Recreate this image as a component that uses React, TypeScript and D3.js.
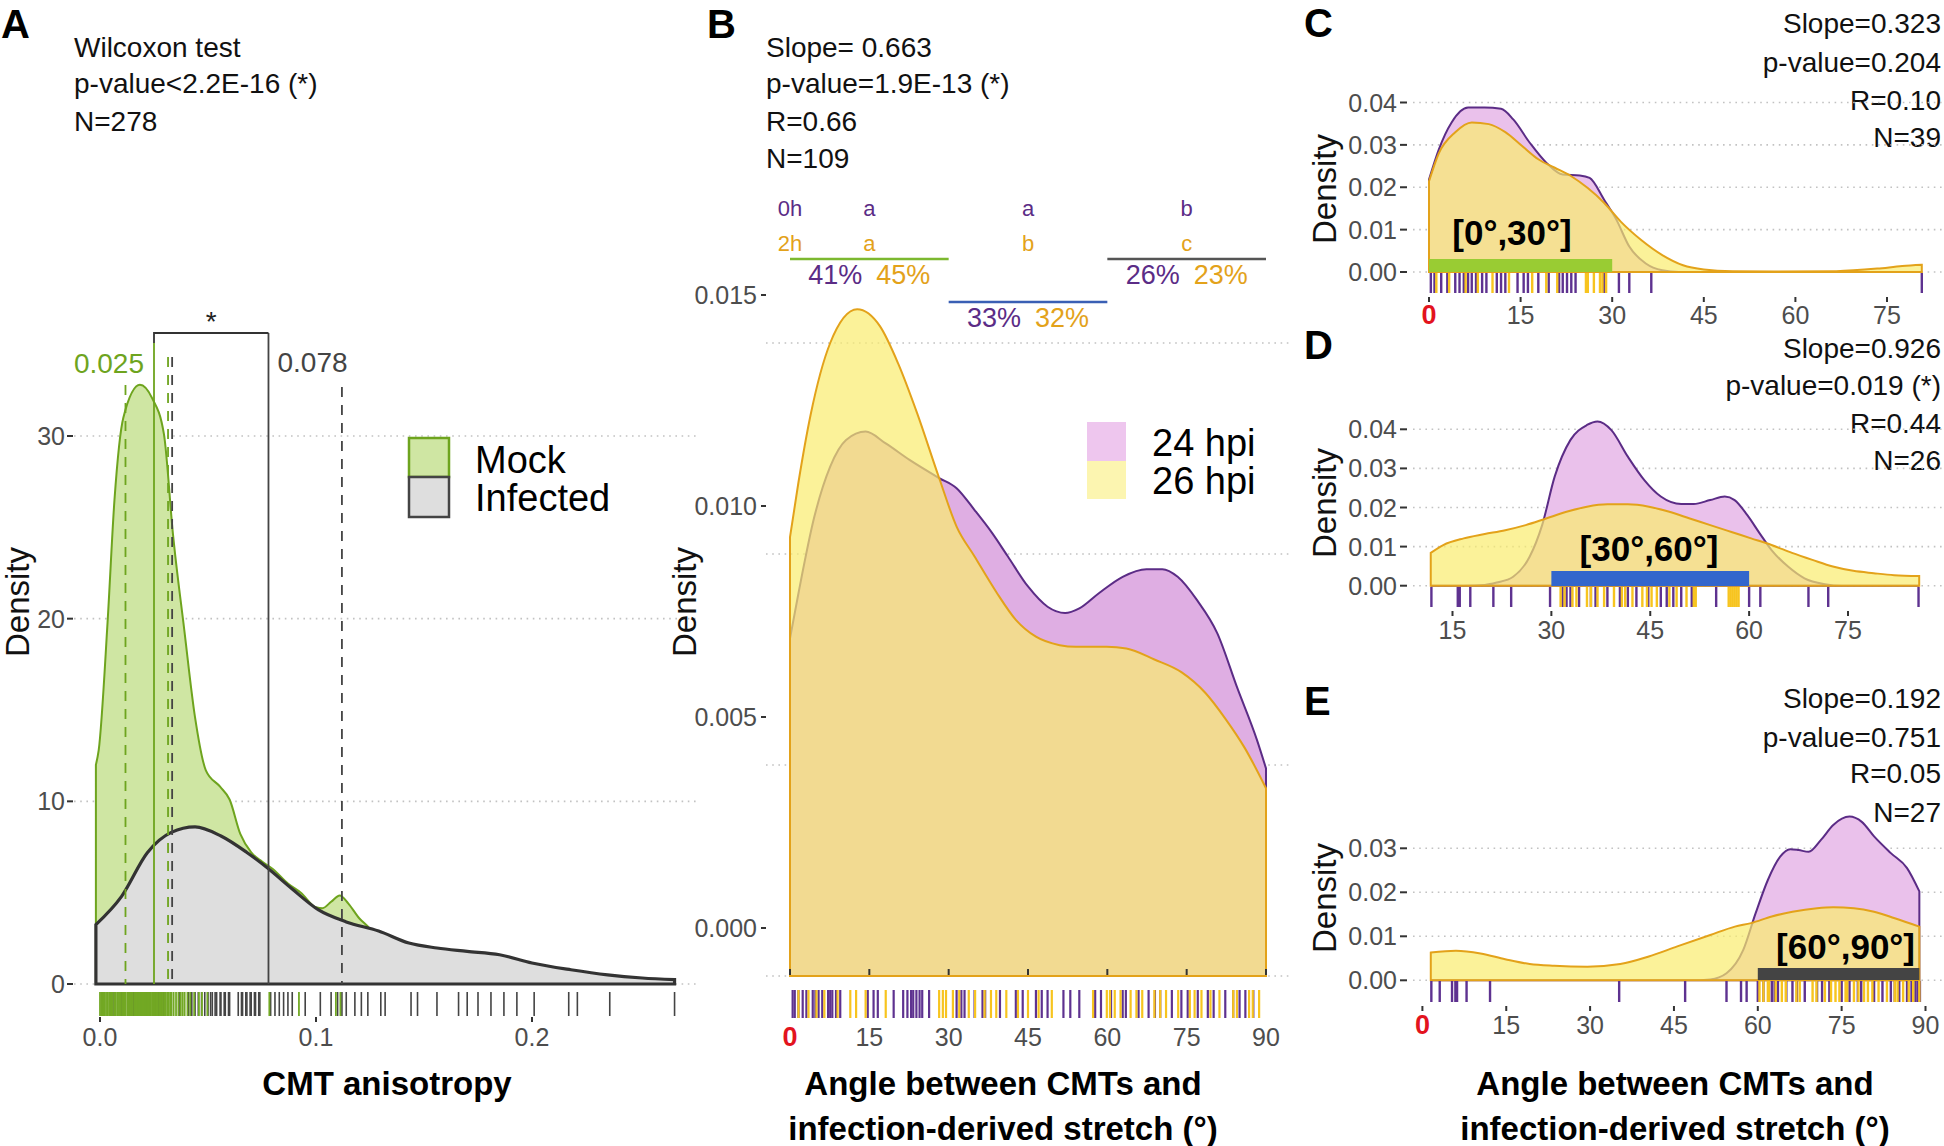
import React from "react";
import * as d3 from "d3";

type Pt = [number, number];

const FONT = "'Liberation Sans', Arial, Helvetica, sans-serif";
const TICK_GRAY = "#4d4d4d";
const GRID = "#c2c2c2";
const PURPLE = "#5b2c86";
const ORANGE = "#e3a21a";
const RUG_PURPLE = "#5e3290";
const RUG_YELLOW = "#f7c41f";
const RED0 = "#e3131e";
const YELLOW_FILL = "rgb(250,236,110)";

// ---------------- Panel A data ----------------
const aStats = ["Wilcoxon test", "p-value<2.2E-16 (*)", "N=278"];
const aYTicks = [0, 10, 20, 30];
const aXTicks = [0, 0.1, 0.2];
const aXTickLabels = ["0.0", "0.1", "0.2"];
const aLegend = ["Mock", "Infected"];
const mockDensity: Pt[] = [
  [-0.0019, 12.0], [-0.0006, 12.8], [0.0035, 19.8], [0.0067, 26.5], [0.0108, 31.0],
  [0.0185, 32.8], [0.024, 32.1], [0.0296, 30.1], [0.0338, 24.6], [0.039, 19.4], [0.044, 14.6],
  [0.049, 11.7], [0.0556, 10.8], [0.06, 10.1], [0.065, 8.2], [0.07, 7.2], [0.075, 6.7],
  [0.08, 6.3], [0.087, 5.5], [0.093, 5.0], [0.1, 4.2], [0.103, 4.15], [0.107, 4.5],
  [0.111, 4.85], [0.115, 4.4], [0.12, 3.6], [0.124, 3.15], [0.135, 1.6], [0.15, 0.6],
  [0.17, 0.2], [0.2, 0.05],
];
const infectedDensity: Pt[] = [
  [-0.0019, 3.25], [0.01, 4.8], [0.022, 7.2], [0.033, 8.3], [0.044, 8.6], [0.056, 8.1],
  [0.068, 7.2], [0.077, 6.4], [0.089, 5.2], [0.101, 4.07], [0.114, 3.4], [0.129, 2.9],
  [0.143, 2.24], [0.156, 1.97], [0.17, 1.79], [0.185, 1.6], [0.2, 1.15], [0.218, 0.78],
  [0.235, 0.5], [0.251, 0.33], [0.266, 0.24],
];
const mockRug = [
  0.0, 0.0006, 0.0012, 0.0017, 0.0021, 0.0028, 0.0035, 0.0042, 0.0047, 0.0053, 0.0058, 0.0066,
  0.0071, 0.0079, 0.0083, 0.0088, 0.0093, 0.0097, 0.0104, 0.0109, 0.0113, 0.0118, 0.0126,
  0.0133, 0.0137, 0.0141, 0.0146, 0.0152, 0.0159, 0.0163, 0.0167, 0.0172, 0.0178, 0.0182,
  0.0186, 0.0193, 0.0197, 0.0201, 0.0206, 0.0212, 0.0215, 0.0219, 0.0224, 0.0228, 0.0232,
  0.0236, 0.0242, 0.0247, 0.0251, 0.0255, 0.0259, 0.0263, 0.0268, 0.0274, 0.0279, 0.0283,
  0.0287, 0.0291, 0.0297, 0.0304, 0.0311, 0.0318, 0.0325, 0.0331, 0.0341, 0.0352, 0.0363,
  0.0374, 0.0383, 0.0392, 0.0405, 0.0418, 0.0436, 0.0458, 0.0472, 0.0497, 0.0784, 0.0921,
  0.1092, 0.1113,
];
const infectedRug = [
  0.006, 0.0098, 0.013, 0.0155, 0.018, 0.0225, 0.027, 0.0295, 0.033, 0.037, 0.041, 0.0425,
  0.044, 0.0455, 0.047, 0.0485, 0.05, 0.0512, 0.052, 0.0533, 0.054, 0.0556, 0.056, 0.0575,
  0.058, 0.0595, 0.06, 0.064, 0.0655, 0.066, 0.0675, 0.068, 0.0695, 0.07, 0.0715, 0.072,
  0.0735, 0.074, 0.079, 0.081, 0.083, 0.085, 0.087, 0.089, 0.095, 0.102, 0.107, 0.11, 0.112,
  0.114, 0.118, 0.121, 0.124, 0.13, 0.132, 0.144, 0.147, 0.156, 0.166, 0.17, 0.175, 0.181,
  0.187, 0.193, 0.201, 0.217, 0.221, 0.236, 0.266,
];
const mockMedian = 0.025;
const infectedMedian = 0.078;
const mockQuartiles = [0.0118, 0.0315];
const infectedQuartiles = [0.0334, 0.112];

// ---------------- Panel B data ----------------
const bStats = ["Slope= 0.663", "p-value=1.9E-13 (*)", "R=0.66", "N=109"];
const bYTicks = [0, 0.005, 0.01, 0.015];
const angleTicks = [0, 15, 30, 45, 60, 75, 90];
const bRanges: Pt[] = [[0, 30], [30, 60], [60, 90]];
const bLetters0h = ["a", "a", "b"];
const bLetters2h = ["a", "b", "c"];
const bPct24 = ["41%", "33%", "26%"];
const bPct26 = ["45%", "32%", "23%"];
const bRangeColors = ["#7cb82f", "#3a5fb4", "#555555"];
const bLegend = ["24 hpi", "26 hpi"];
const b24Density: Pt[] = [
  [0, 0.008], [1.6, 0.00907], [4.6, 0.01088], [7.6, 0.01207], [10.6, 0.0127], [14.3, 0.0129],
  [18.1, 0.01262], [22.6, 0.01223], [28.2, 0.0118], [31.5, 0.01156], [34.9, 0.01104],
  [38.2, 0.0105], [41.2, 0.00994], [45, 0.00923], [48.7, 0.00875], [52, 0.0086],
  [54.7, 0.00871], [58.4, 0.00907], [62.9, 0.00946], [67.4, 0.00964], [70.4, 0.00964],
  [73.3, 0.00946], [77, 0.0089], [80.8, 0.00812], [84.5, 0.00685], [88.3, 0.00559], [90, 0.00492],
];
const b26Density: Pt[] = [
  [0, 0.0104], [1.6, 0.0117], [3.9, 0.0133], [7.6, 0.015], [12.7, 0.0158], [17, 0.0154],
  [20.5, 0.0145], [24, 0.01335], [28.2, 0.0118], [31.5, 0.01065], [34.9, 0.00994], [39, 0.0091],
  [42.7, 0.00844], [46.5, 0.00804], [51, 0.00784], [54, 0.0078], [59.9, 0.0078], [63.6, 0.00776],
  [68.9, 0.0075], [74, 0.0072], [78.6, 0.0067], [82.3, 0.0061], [86, 0.0054], [90, 0.00445],
];
const b24Rug = [
  0.5, 0.9, 1.6, 2.4, 3.1, 4.3, 4.8, 5.4, 6.1, 7.2, 7.6, 8.0, 8.7, 9.5, 14.7, 15.8, 16.6, 19.6,
  21.4, 22.2, 22.9, 23.3, 23.9, 24.5, 25.0, 26.3, 31.5, 32.4, 33.0, 34.9, 36.4, 36.9, 39.7,
  42.7, 44.0, 46.5, 47.6, 48.7, 51.7, 53.0, 54.7, 57.7, 58.8, 60.7, 62.9, 63.5, 65.9, 67.8,
  69.0, 70.0, 72.2, 74.0, 75.2, 77.1, 79.0, 80.1, 82.3, 83.8, 85.0, 86.1, 87.6,
];
const b26Rug = [
  1.6, 3.5, 5.0, 6.5, 9.0, 11.4, 12.5, 14.3, 18.1, 28.2, 28.9, 29.5, 30.8, 32.0, 33.8, 35.0,
  36.8, 38.0, 39.0, 40.9, 43.1, 45.0, 47.0, 49.5, 57.3, 59.9, 60.5, 61.4, 62.5, 64.4, 65.5,
  66.6, 68.9, 70.0, 71.1, 73.4, 75.6, 76.5, 77.8, 79.5, 81.2, 83.8, 84.5, 86.8, 87.5, 88.7,
];

// ---------------- Panel C data ----------------
const cStats = ["Slope=0.323", "p-value=0.204", "R=0.10", "N=39"];
const cYTicks = [0, 0.01, 0.02, 0.03, 0.04];
const cXTicks = [0, 15, 30, 45, 60, 75];
const cPurple: Pt[] = [
  [0, 0.0218], [1.6, 0.0289], [3.7, 0.0353], [6.4, 0.0388], [9.1, 0.0388], [11.8, 0.0385],
  [13.8, 0.036], [16.5, 0.0305], [19.2, 0.0258], [21.9, 0.023], [24.7, 0.0228], [26.3, 0.0222],
  [28.7, 0.017], [30.7, 0.0123], [32.8, 0.006], [35.5, 0.002], [38.2, 0.0004], [40.9, 0],
  [50, 0], [80.7, 0],
];
const cYellow: Pt[] = [
  [0, 0.0214], [1.6, 0.028], [4.3, 0.033], [7, 0.0353], [9.8, 0.0349], [12.5, 0.033],
  [15.2, 0.0298], [17.9, 0.0266], [20.6, 0.0246], [23.3, 0.0226], [26, 0.0198], [28.7, 0.0163],
  [31.4, 0.0119], [34.8, 0.0075], [38.2, 0.004], [41.6, 0.0016], [45, 0.0006], [49.7, 0.00016],
  [56.5, 0.0001], [66.7, 0.0002], [73.4, 0.0008], [77.5, 0.0014], [80.7, 0.0017],
];
const cPurpleRug = [
  0.3, 0.9, 2.0, 3.0, 4.3, 5.0, 5.7, 6.4, 7.0, 7.7, 8.7, 9.4, 11.1, 11.8, 12.5, 14.5, 15.5,
  16.2, 17.9, 19.6, 21.3, 21.9, 22.6, 23.3, 24.0, 28.7, 31.1, 32.8, 36.4, 80.7,
];
const cYellowRug = [1.2, 3.3, 6.0, 8.0, 10.4, 13.1, 16.9, 19.2, 21.0, 25.7, 26.0, 27.0, 28.0, 28.4, 29.0];

// ---------------- Panel D data ----------------
const dStats = ["Slope=0.926", "p-value=0.019 (*)", "R=0.44", "N=26"];
const dYTicks = [0, 0.01, 0.02, 0.03, 0.04];
const dXTicks = [15, 30, 45, 60, 75];
const dPurple: Pt[] = [
  [11.7, 0], [16.7, 0], [19.9, 0.0002], [21.7, 0.0008], [24.2, 0.0023], [26.7, 0.0074],
  [28.6, 0.0155], [30.5, 0.0279], [32.9, 0.0373], [35.4, 0.0411], [37, 0.042], [39.1, 0.0398],
  [41.6, 0.033], [44.1, 0.027], [46.6, 0.0228], [49.7, 0.0209], [51.6, 0.0209], [54.1, 0.0219],
  [56.3, 0.0228], [57.8, 0.0219], [59.7, 0.0181], [61.6, 0.0134], [63.4, 0.0091], [65.9, 0.0049],
  [68.4, 0.0019], [71.5, 0.0004], [74, 0], [85.8, 0],
];
const dYellow: Pt[] = [
  [11.7, 0.0084], [13.6, 0.0104], [16.7, 0.0121], [19.9, 0.0132], [23, 0.0142], [26.1, 0.0155],
  [29.2, 0.0172], [32.3, 0.0189], [35.4, 0.0202], [38.5, 0.0208], [41.6, 0.0208], [44.8, 0.0202],
  [47.9, 0.0189], [51, 0.0172], [54.1, 0.0155], [57.2, 0.0138], [60.3, 0.0121], [63.4, 0.0104],
  [66.5, 0.0084], [69.6, 0.0066], [72.7, 0.0049], [75.8, 0.0038], [78.9, 0.0032], [82, 0.0027],
  [85.8, 0.0025],
];
const dPurpleRug = [
  11.8, 15.8, 16.1, 17.7, 21.2, 23.9, 29.8, 31.7, 32.3, 32.9, 34.2, 36.0, 36.7, 38.5, 40.4,
  41.6, 42.9, 44.7, 46.6, 47.5, 48.5, 49.7, 51.3, 55.0, 60.0, 61.7, 69.0, 72.0, 85.7,
];
const dYellowRug = [
  31.4, 32.0, 33.2, 33.8, 35.4, 36.0, 37.0, 38.0, 39.5, 40.7, 41.2, 42.3, 43.8, 44.5, 45.2,
  46.0, 47.9, 49.0, 50.5, 51.6, 51.9, 56.9, 57.2, 57.5, 57.8, 58.1, 58.4,
];

// ---------------- Panel E data ----------------
const eStats = ["Slope=0.192", "p-value=0.751", "R=0.05", "N=27"];
const eYTicks = [0, 0.01, 0.02, 0.03];
const eXTicks = [0, 15, 30, 45, 60, 75, 90];
const ePurple: Pt[] = [
  [1.5, 0], [48, 0], [51.5, 0.0002], [54.4, 0.0016], [57.4, 0.0069], [59.6, 0.0152],
  [61.8, 0.0228], [64, 0.0281], [65.8, 0.0298], [67.3, 0.0296], [69.1, 0.0292], [71.3, 0.0319],
  [73.5, 0.0353], [76.4, 0.0372], [78.6, 0.036], [80.8, 0.0327], [83.8, 0.0289], [86.7, 0.0255],
  [88.9, 0.0202],
];
const eYellow: Pt[] = [
  [1.5, 0.0063], [6, 0.0067], [10.4, 0.0061], [14.8, 0.0048], [19.2, 0.0037], [23.6, 0.0033],
  [29.5, 0.0031], [35.4, 0.0037], [40.5, 0.0054], [45.6, 0.0077], [51.5, 0.0103], [55.9, 0.0122],
  [58.8, 0.013], [62.5, 0.0145], [66.2, 0.0156], [70.6, 0.0164], [73.5, 0.0166], [77.2, 0.0164],
  [80.8, 0.0156], [84.5, 0.0141], [88.9, 0.0122],
];
const ePurpleRug = [
  1.6, 3.1, 5.3, 5.9, 6.2, 7.9, 12.1, 35.2, 47.0, 54.4, 57.0, 58.0, 60.0, 61.0, 62.5, 63.0,
  63.6, 65.1, 66.2, 67.0, 68.4, 70.6, 71.5, 72.8, 75.0, 76.4, 77.9, 78.5, 80.8, 82.3, 83.8,
  84.5, 85.3, 86.7, 87.5, 88.2, 88.6, 89.0,
];
const eYellowRug = [
  60.3, 61.0, 61.8, 62.0, 63.2, 64.3, 65.0, 66.9, 67.5, 69.8, 70.5, 72.0, 73.1, 73.9, 74.6,
  75.7, 76.0, 77.2, 78.0, 79.0, 79.7, 80.5, 81.6, 83.1, 84.5, 85.0, 86.0, 87.0, 87.8, 88.9,
];

const xTitle = ["Angle between CMTs and", "infection-derived stretch (°)"];

// ---------------- helpers ----------------
type Scale = d3.ScaleLinear<number, number>;

function areaPath(data: Pt[], x: Scale, y: Scale): string {
  return (
    d3
      .area<Pt>()
      .x((d) => x(d[0]))
      .y0(y(0))
      .y1((d) => y(d[1]))
      .curve(d3.curveMonotoneX)(data) || ""
  );
}

function GridLine({ x1, x2, y }: { x1: number; x2: number; y: number }) {
  return (
    <line x1={x1} x2={x2} y1={y} y2={y} stroke={GRID} strokeWidth={1.6} strokeDasharray="1.6 4.6" />
  );
}

function Rug({ vals, x, y1, y2, color, w }: { vals: number[]; x: Scale; y1: number; y2: number; color: string; w: number }) {
  return (
    <g>
      {vals.map((v, i) => (
        <line key={i} x1={x(v)} x2={x(v)} y1={y1} y2={y2} stroke={color} strokeWidth={w} />
      ))}
    </g>
  );
}

function DensityLabel({ x, y }: { x: number; y: number }) {
  return (
    <text
      transform={`translate(${x},${y}) rotate(-90)`}
      textAnchor="middle"
      dominantBaseline="central"
      fontSize={33}
      fill="#111"
    >
      Density
    </text>
  );
}

// ---------------- Panel A ----------------
function PanelA() {
  const x = d3.scaleLinear().domain([0, 0.2]).range([100, 532]);
  const y = d3.scaleLinear().domain([0, 30]).range([984, 436]);
  const statY = [47, 83, 121];
  const green = "#6ea41e";
  return (
    <g>
      <text x={1} y={38} fontSize={40} fontWeight="bold">A</text>
      {aStats.map((s, i) => (
        <text key={i} x={74} y={statY[i] + 10} fontSize={28} fill="#111">{s}</text>
      ))}
      {aYTicks.map((t) => (
        <g key={t}>
          <GridLine x1={74} x2={700} y={y(t)} />
          <line x1={67} x2={73} y1={y(t)} y2={y(t)} stroke="#333" strokeWidth={2} />
          <text x={65} y={y(t) + 9} textAnchor="end" fontSize={25} fill={TICK_GRAY}>{t}</text>
        </g>
      ))}
      <path d={areaPath(mockDensity, x, y)} fill="#cfe6a3" stroke={green} strokeWidth={2} />
      <path d={areaPath(infectedDensity, x, y)} fill="#dedede" stroke="#333" strokeWidth={3.2} />
      {/* quartile dashed lines */}
      <line x1={x(mockQuartiles[0])} x2={x(mockQuartiles[0])} y1={385} y2={y(0)} stroke={green} strokeWidth={1.8} strokeDasharray="10 8" />
      <line x1={x(mockQuartiles[1])} x2={x(mockQuartiles[1])} y1={357} y2={y(0)} stroke={green} strokeWidth={1.8} strokeDasharray="10 8" />
      <line x1={x(infectedQuartiles[0])} x2={x(infectedQuartiles[0])} y1={357} y2={y(0)} stroke="#444" strokeWidth={1.8} strokeDasharray="10 8" />
      <line x1={x(infectedQuartiles[1])} x2={x(infectedQuartiles[1])} y1={387} y2={y(0)} stroke="#444" strokeWidth={1.8} strokeDasharray="10 8" />
      {/* medians */}
      <line x1={x(mockMedian)} x2={x(mockMedian)} y1={343} y2={y(0)} stroke={green} strokeWidth={1.8} />
      <line x1={x(infectedMedian)} x2={x(infectedMedian)} y1={333} y2={y(0)} stroke="#444" strokeWidth={1.8} />
      <path
        d={`M${x(mockMedian)},343 V333 H${x(infectedMedian)}`}
        fill="none"
        stroke="#333"
        strokeWidth={1.8}
      />
      <text x={(x(mockMedian) + x(infectedMedian)) / 2} y={331} textAnchor="middle" fontSize={28} fill="#222">*</text>
      <text x={x(mockMedian) - 10} y={363 + 10} textAnchor="end" fontSize={28} fill={green}>
        {mockMedian.toFixed(3)}
      </text>
      <text x={x(infectedMedian) + 9} y={362 + 10} fontSize={28} fill="#444">
        {infectedMedian.toFixed(3)}
      </text>
      {/* legend */}
      <rect x={409} y={438} width={40} height={39} fill="#cfe6a3" stroke={green} strokeWidth={2.5} />
      <rect x={409} y={477} width={40} height={40} fill="#dedede" stroke="#444" strokeWidth={2.5} />
      <text x={475} y={459 + 13.5} fontSize={38} fill="#000">{aLegend[0]}</text>
      <text x={475} y={497 + 13.5} fontSize={38} fill="#000">{aLegend[1]}</text>
      {/* rug */}
      <Rug vals={infectedRug} x={x} y1={992} y2={1016} color="#444" w={1.6} />
      <Rug vals={mockRug} x={x} y1={992} y2={1016} color="#72a824" w={1.8} />
      {aXTicks.map((t, i) => (
        <g key={t}>
          <line x1={x(t)} x2={x(t)} y1={1017} y2={1022} stroke="#333" strokeWidth={2} />
          <text x={x(t)} y={1037 + 9} textAnchor="middle" fontSize={25} fill={TICK_GRAY}>{aXTickLabels[i]}</text>
        </g>
      ))}
      <DensityLabel x={17} y={602} />
      <text x={387} y={1095} textAnchor="middle" fontSize={33} fontWeight="bold">CMT anisotropy</text>
    </g>
  );
}

// ---------------- Panel B ----------------
function PanelB() {
  const x = d3.scaleLinear().domain([0, 90]).range([790, 1266]);
  const y = d3.scaleLinear().domain([0, 0.015]).range([976, 343]);
  const labelShift = -48;
  const statY = [47, 83, 121, 158];
  const lineY = [259, 302, 259];
  return (
    <g>
      <text x={707} y={38} fontSize={40} fontWeight="bold">B</text>
      {bStats.map((s, i) => (
        <text key={i} x={766} y={statY[i] + 10} fontSize={28} fill="#111">{s}</text>
      ))}
      {bYTicks.map((t) => (
        <g key={t}>
          <GridLine x1={766} x2={1290} y={y(t)} />
          <line x1={761} x2={766} y1={y(t) + labelShift} y2={y(t) + labelShift} stroke="#333" strokeWidth={2} />
          <text x={757} y={y(t) + labelShift + 9} textAnchor="end" fontSize={25} fill={TICK_GRAY}>
            {d3.format(".3f")(t)}
          </text>
        </g>
      ))}
      <text x={x(0)} y={208 + 8} textAnchor="middle" fontSize={22} fill={PURPLE}>0h</text>
      <text x={x(0)} y={243 + 8} textAnchor="middle" fontSize={22} fill={ORANGE}>2h</text>
      {bRanges.map((r, i) => {
        const cx = x((r[0] + r[1]) / 2);
        const py = lineY[i] + 16 + 9;
        return (
          <g key={i}>
            <text x={cx} y={208 + 8} textAnchor="middle" fontSize={22} fill={PURPLE}>{bLetters0h[i]}</text>
            <text x={cx} y={243 + 8} textAnchor="middle" fontSize={22} fill={ORANGE}>{bLetters2h[i]}</text>
            <line x1={x(r[0])} x2={x(r[1])} y1={lineY[i]} y2={lineY[i]} stroke={bRangeColors[i]} strokeWidth={2.5} />
            <text x={cx - 34} y={py} textAnchor="middle" fontSize={27} fill={PURPLE}>{bPct24[i]}</text>
            <text x={cx + 34} y={py} textAnchor="middle" fontSize={27} fill={ORANGE}>{bPct26[i]}</text>
          </g>
        );
      })}
      <path d={areaPath(b24Density, x, y)} fill="#dfaee3" stroke={PURPLE} strokeWidth={2} />
      <path d={areaPath(b26Density, x, y)} fill={YELLOW_FILL} fillOpacity={0.7} stroke={ORANGE} strokeWidth={2} />
      {angleTicks.map((t) => (
        <line key={t} x1={x(t)} x2={x(t)} y1={969} y2={975} stroke="#333" strokeWidth={2} />
      ))}
      {/* legend */}
      <rect x={1087} y={422} width={39} height={39} fill="#eec6ee" />
      <rect x={1087} y={461} width={39} height={38} fill="#fcf5b0" />
      <text x={1152} y={442 + 13.5} fontSize={38} fill="#000">{bLegend[0]}</text>
      <text x={1152} y={480 + 13.5} fontSize={38} fill="#000">{bLegend[1]}</text>
      <Rug vals={b24Rug} x={x} y1={990} y2={1018} color={RUG_PURPLE} w={2.2} />
      <Rug vals={b26Rug} x={x} y1={990} y2={1018} color={RUG_YELLOW} w={2.2} />
      {angleTicks.map((t) => (
        <text
          key={t}
          x={x(t)}
          y={1037 + 9}
          textAnchor="middle"
          fontSize={t === 0 ? 27 : 25}
          fontWeight={t === 0 ? "bold" : "normal"}
          fill={t === 0 ? RED0 : TICK_GRAY}
        >
          {t}
        </text>
      ))}
      <DensityLabel x={684} y={602} />
      <text x={1003} y={1095} textAnchor="middle" fontSize={33} fontWeight="bold">{xTitle[0]}</text>
      <text x={1003} y={1140} textAnchor="middle" fontSize={33} fontWeight="bold">{xTitle[1]}</text>
    </g>
  );
}

// ---------------- Small panels C, D, E ----------------
type SmallProps = {
  letter: string;
  letterY: number;
  stats: string[];
  statYs: number[];
  x: Scale;
  y: Scale;
  yTicks: number[];
  xTicks: number[];
  purple: Pt[];
  yellow: Pt[];
  purpleRug: number[];
  yellowRug: number[];
  rugY: [number, number];
  tickY: number;
  xLabelY: number;
  bar: { from: number; to: number; color: string; y1: number; y2: number };
  barLabel: { text: string; x: number; y: number; anchor: "middle" | "end" };
  densityY: number;
};

function SmallPanel(p: SmallProps) {
  const fmt = d3.format(".2f");
  return (
    <g>
      <text x={1304} y={p.letterY} fontSize={40} fontWeight="bold">{p.letter}</text>
      {p.stats.map((s, i) => (
        <text key={i} x={1941} y={p.statYs[i] + 10} textAnchor="end" fontSize={28} fill="#111">{s}</text>
      ))}
      {p.yTicks.map((t) => (
        <g key={t}>
          <GridLine x1={1413} x2={1944} y={p.y(t)} />
          <line x1={1400} x2={1407} y1={p.y(t)} y2={p.y(t)} stroke="#333" strokeWidth={2} />
          <text x={1397} y={p.y(t) + 9} textAnchor="end" fontSize={25} fill={TICK_GRAY}>{fmt(t)}</text>
        </g>
      ))}
      <path d={areaPath(p.purple, p.x, p.y)} fill="#eac1eb" stroke={PURPLE} strokeWidth={2} />
      <path d={areaPath(p.yellow, p.x, p.y)} fill={YELLOW_FILL} fillOpacity={0.7} stroke={ORANGE} strokeWidth={2} />
      <rect
        x={p.x(p.bar.from)}
        y={p.bar.y1}
        width={p.x(p.bar.to) - p.x(p.bar.from)}
        height={p.bar.y2 - p.bar.y1}
        fill={p.bar.color}
      />
      <text
        x={p.barLabel.x}
        y={p.barLabel.y + 12}
        textAnchor={p.barLabel.anchor}
        fontSize={35}
        fontWeight="bold"
        fill="#000"
      >
        {p.barLabel.text}
      </text>
      <Rug vals={p.purpleRug} x={p.x} y1={p.rugY[0]} y2={p.rugY[1]} color={RUG_PURPLE} w={2.4} />
      <Rug vals={p.yellowRug} x={p.x} y1={p.rugY[0]} y2={p.rugY[1]} color={RUG_YELLOW} w={2.4} />
      {p.xTicks.map((t) => (
        <g key={t}>
          <line x1={p.x(t)} x2={p.x(t)} y1={p.tickY} y2={p.tickY + 5} stroke="#333" strokeWidth={2} />
          <text
            x={p.x(t)}
            y={p.xLabelY + 9}
            textAnchor="middle"
            fontSize={t === 0 ? 27 : 25}
            fontWeight={t === 0 ? "bold" : "normal"}
            fill={t === 0 ? RED0 : TICK_GRAY}
          >
            {t}
          </text>
        </g>
      ))}
      <DensityLabel x={1324} y={p.densityY} />
    </g>
  );
}

export default function App() {
  const xC = d3.scaleLinear().domain([0, 75]).range([1429, 1887]);
  const yC = d3.scaleLinear().domain([0, 0.04]).range([272, 102.5]);
  const xD = d3.scaleLinear().domain([15, 75]).range([1452.5, 1848]);
  const yD = d3.scaleLinear().domain([0, 0.04]).range([585.7, 429.3]);
  const xE = d3.scaleLinear().domain([0, 90]).range([1422.4, 1925.5]);
  const yE = d3.scaleLinear().domain([0, 0.03]).range([980.3, 848.3]);
  return (
    <svg
      width={1944}
      height={1146}
      viewBox="0 0 1944 1146"
      style={{ position: "absolute", left: 0, top: 0, display: "block" }}
      fontFamily={FONT}
    >
      <rect x={0} y={0} width={1944} height={1146} fill="#ffffff" />
      <PanelA />
      <PanelB />
      <SmallPanel
        letter="C"
        letterY={37}
        stats={cStats}
        statYs={[23, 62, 100, 137]}
        x={xC}
        y={yC}
        yTicks={cYTicks}
        xTicks={cXTicks}
        purple={cPurple}
        yellow={cYellow}
        purpleRug={cPurpleRug}
        yellowRug={cYellowRug}
        rugY={[273, 293]}
        tickY={297}
        xLabelY={315}
        bar={{ from: 0, to: 30, color: "#99cc33", y1: 259, y2: 272 }}
        barLabel={{ text: "[0°,30°]", x: 1512, y: 233, anchor: "middle" }}
        densityY={189}
      />
      <SmallPanel
        letter="D"
        letterY={359}
        stats={dStats}
        statYs={[348, 385, 423, 460]}
        x={xD}
        y={yD}
        yTicks={dYTicks}
        xTicks={dXTicks}
        purple={dPurple}
        yellow={dYellow}
        purpleRug={dPurpleRug}
        yellowRug={dYellowRug}
        rugY={[587, 607]}
        tickY={611}
        xLabelY={630}
        bar={{ from: 30, to: 60, color: "#3366cc", y1: 571, y2: 586 }}
        barLabel={{ text: "[30°,60°]", x: 1649, y: 549, anchor: "middle" }}
        densityY={503}
      />
      <SmallPanel
        letter="E"
        letterY={715}
        stats={eStats}
        statYs={[698, 737, 773, 812]}
        x={xE}
        y={yE}
        yTicks={eYTicks}
        xTicks={eXTicks}
        purple={ePurple}
        yellow={eYellow}
        purpleRug={ePurpleRug}
        yellowRug={eYellowRug}
        rugY={[981, 1002]}
        tickY={1006}
        xLabelY={1025}
        bar={{ from: 60, to: 88.9, color: "#444444", y1: 968, y2: 980 }}
        barLabel={{ text: "[60°,90°]", x: 1915, y: 947, anchor: "end" }}
        densityY={898}
      />
      <text x={1675} y={1095} textAnchor="middle" fontSize={33} fontWeight="bold">{xTitle[0]}</text>
      <text x={1675} y={1140} textAnchor="middle" fontSize={33} fontWeight="bold">{xTitle[1]}</text>
    </svg>
  );
}
